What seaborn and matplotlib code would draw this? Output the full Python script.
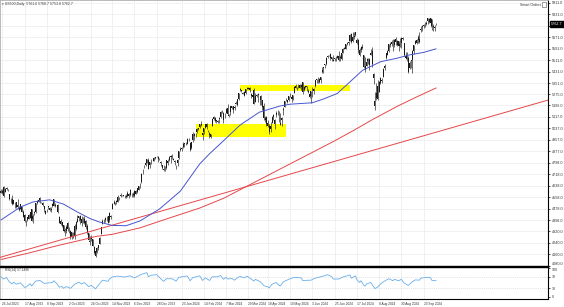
import numpy as np
import pandas as pd
import matplotlib
matplotlib.use("Agg")
import matplotlib.pyplot as plt
import matplotlib.transforms as mtransforms
from matplotlib.patches import Rectangle
import seaborn as sns

# ---------------- data (US500 daily CFD, 25 Jul 2023 - 4 Oct 2024) ----------------
start_date = "2023-07-25"
end_date = "2024-10-04"

opens = [
    4587, 4590, 4630, 4597,
    4617, 4610, 4582, 4532, 4546,
    4512, 4518, 4522, 4507, 4470,
    4478, 4499, 4453, 4437, 4365,
    4401, 4436, 4417, 4475, 4409,
    4446, 4452, 4520, 4538, 4551,
    4524, 4519, 4499, 4442, 4459,
    4488, 4481, 4470, 4495, 4547,
    4495, 4495, 4502, 4424, 4392,
    4360, 4363, 4332, 4320, 4378,
    4334, 4320, 4284, 4309, 4285,
    4339, 4389, 4416, 4430, 4410,
    4377, 4380, 4392, 4357, 4309,
    4246, 4270, 4267, 4210, 4187,
    4175, 4206, 4236, 4304, 4370,
    4400, 4401, 4419, 4426, 4400,
    4421, 4473, 4520, 4512, 4525,
    4526, 4554, 4568, 4572, 4570,
    4569, 4560, 4586, 4564, 4575,
    4584, 4572, 4601, 4583, 4592,
    4608, 4634, 4661, 4736, 4774,
    4780, 4798, 4819, 4779, 4808,
    4810, 4813, 4828, 4841, 4837,
    4825, 4800, 4781, 4753, 4745,
    4758, 4796, 4815, 4848, 4847,
    4822, 4810, 4778, 4798, 4834,
    4891, 4894, 4926, 4925, 4926,
    4930, 4964, 4937, 4900, 4955,
    4995, 4988, 5011, 5033, 5043,
    5064, 5005, 5014, 5041, 5069,
    5021, 5005, 4979, 5054, 5115,
    5108, 5089, 5083, 5100, 5113,
    5146, 5145, 5124, 5147, 5179,
    5126, 5149, 5189, 5190, 5183,
    5215, 5199, 5241, 5313, 5302,
    5280, 5288, 5286, 5313, 5314,
    5318, 5279, 5254, 5304, 5218,
    5271, 5277, 5220, 5232, 5231,
    5194, 5109, 5113, 5077, 5050,
    5032, 5074, 5130, 5064, 5129,
    5159, 5149, 5074, 5095, 5167,
    5187, 5232, 5218, 5234, 5271,
    5253, 5241, 5283, 5330, 5323,
    5325, 5318, 5339, 5360, 5302,
    5325, 5335, 5298, 5279, 5264,
    5304, 5296, 5334, 5377, 5363,
    5361, 5374, 5429, 5461, 5477,
    5486, 5532, 5542, 5555, 5534,
    5514, 5516, 5515, 5528, 5543,
    5526, 5516, 5562, 5592, 5592,
    5627, 5639, 5646, 5691, 5645,
    5678, 5684, 5650, 5648, 5583,
    5584, 5606, 5545, 5469, 5474,
    5516, 5518, 5545, 5578, 5416,
    5191, 5246, 5333, 5292, 5353,
    5370, 5394, 5460, 5523, 5549,
    5575, 5621, 5621, 5655, 5620,
    5657, 5620, 5642, 5625, 5630,
    5666, 5630, 5525, 5548, 5525,
    5460, 5508, 5514, 5576, 5622,
    5634, 5673, 5659, 5720, 5749,
    5751, 5767, 5773, 5802, 5796,
    5767, 5797, 5739, 5738, 5761.6,
]
highs = [
    4612, 4614, 4639, 4622,
    4627, 4616, 4583, 4551, 4572,
    4540, 4523, 4523, 4547, 4496,
    4510, 4499, 4470, 4441, 4402,
    4424, 4439, 4457, 4478, 4438,
    4459, 4520, 4541, 4552, 4562,
    4528, 4522, 4499, 4466, 4476,
    4498, 4488, 4487, 4519, 4547,
    4517, 4502, 4511, 4425, 4407,
    4388, 4363, 4342, 4367, 4384,
    4350, 4332, 4318, 4317, 4374,
    4391, 4435, 4428, 4435, 4427,
    4418, 4429, 4399, 4375, 4311,
    4291, 4294, 4268, 4219, 4191,
    4212, 4229, 4280, 4354, 4409,
    4407, 4421, 4426, 4428, 4453,
    4436, 4518, 4536, 4526, 4536,
    4572, 4557, 4584, 4577, 4575,
    4576, 4583, 4602, 4584, 4614,
    4590, 4593, 4605, 4605, 4624,
    4638, 4659, 4724, 4754, 4781,
    4804, 4824, 4833, 4803, 4827,
    4815, 4839, 4840, 4848, 4844,
    4830, 4809, 4784, 4782, 4776,
    4819, 4821, 4846, 4853, 4858,
    4828, 4820, 4782, 4823, 4880,
    4906, 4904, 4941, 4936, 4945,
    4967, 4970, 4944, 4944, 5013,
    5002, 5002, 5037, 5038, 5068,
    5086, 5009, 5041, 5070, 5076,
    5027, 5009, 4999, 5109, 5126,
    5113, 5098, 5096, 5119, 5155,
    5164, 5149, 5143, 5180, 5205,
    5140, 5194, 5195, 5194, 5196,
    5224, 5240, 5286, 5321, 5306,
    5289, 5296, 5309, 5325, 5322,
    5324, 5280, 5288, 5316, 5282,
    5279, 5284, 5238, 5271, 5235,
    5213, 5124, 5122, 5094, 5064,
    5083, 5122, 5134, 5102, 5159,
    5168, 5155, 5141, 5118, 5185,
    5226, 5245, 5236, 5260, 5284,
    5259, 5270, 5331, 5345, 5325,
    5345, 5343, 5343, 5361, 5331,
    5335, 5335, 5308, 5283, 5300,
    5322, 5318, 5375, 5382, 5396,
    5386, 5396, 5467, 5462, 5487,
    5531, 5545, 5550, 5561, 5534,
    5545, 5526, 5539, 5545, 5578,
    5545, 5564, 5594, 5600, 5625,
    5639, 5645, 5690, 5697, 5710,
    5707, 5710, 5662, 5655, 5597,
    5610, 5625, 5548, 5531, 5528,
    5527, 5526, 5591, 5606, 5423,
    5290, 5352, 5370, 5366, 5391,
    5390, 5454, 5482, 5561, 5582,
    5626, 5638, 5651, 5661, 5659,
    5669, 5649, 5646, 5664, 5669,
    5673, 5630, 5570, 5569, 5541,
    5502, 5515, 5579, 5618, 5654,
    5656, 5689, 5708, 5751, 5755,
    5762, 5775, 5781, 5807, 5803,
    5803, 5797, 5760, 5758, 5768.7,
]
lows = [
    4584, 4579, 4560, 4595,
    4606, 4600, 4537, 4517, 4506,
    4511, 4484, 4482, 4478, 4463,
    4473, 4453, 4423, 4385, 4355,
    4392, 4406, 4415, 4395, 4377,
    4434, 4451, 4513, 4527, 4517,
    4518, 4500, 4454, 4439, 4455,
    4476, 4464, 4457, 4487, 4497,
    4493, 4466, 4451, 4379, 4366,
    4352, 4315, 4289, 4311, 4324,
    4310, 4270, 4270, 4275, 4269,
    4333, 4389, 4395, 4375, 4361,
    4377, 4373, 4338, 4303, 4258,
    4225, 4255, 4216, 4163, 4139,
    4167, 4188, 4233, 4304, 4370,
    4382, 4388, 4395, 4379, 4389,
    4409, 4473, 4510, 4503, 4514,
    4525, 4540, 4561, 4567, 4567,
    4556, 4552, 4562, 4552, 4567,
    4559, 4563, 4561, 4581, 4590,
    4608, 4624, 4659, 4717, 4760,
    4775, 4798, 4752, 4763, 4791,
    4807, 4813, 4823, 4835, 4806,
    4820, 4778, 4755, 4738, 4737,
    4755, 4785, 4811, 4795, 4824,
    4816, 4785, 4752, 4778, 4823,
    4882, 4882, 4903, 4907, 4919,
    4925, 4951, 4883, 4891, 4945,
    4955, 4975, 5007, 5025, 5039,
    5054, 4958, 5001, 5037, 5033,
    5013, 4969, 4971, 5054, 5096,
    5083, 5073, 5077, 5077, 5109,
    5142, 5071, 5106, 5143, 5129,
    5116, 5130, 5170, 5142, 5164,
    5205, 5191, 5232, 5300, 5290,
    5276, 5263, 5273, 5309, 5310,
    5289, 5249, 5254, 5206, 5217,
    5257, 5220, 5198, 5198, 5168,
    5097, 5084, 5053, 5046, 4999,
    5014, 5072, 5092, 5035, 5119,
    5133, 5080, 5059, 5056, 5129,
    5187, 5224, 5210, 5225, 5252,
    5222, 5237, 5283, 5316, 5304,
    5319, 5317, 5306, 5276, 5298,
    5320, 5300, 5284, 5245, 5211,
    5255, 5277, 5322, 5355, 5351,
    5351, 5351, 5424, 5424, 5458,
    5475, 5526, 5537, 5510, 5507,
    5502, 5502, 5507, 5524, 5507,
    5506, 5513, 5561, 5588, 5586,
    5618, 5620, 5642, 5631, 5638,
    5659, 5676, 5623, 5563, 5537,
    5569, 5590, 5459, 5430, 5470,
    5484, 5440, 5545, 5462, 5342,
    5165, 5233, 5232, 5289, 5346,
    5351, 5394, 5442, 5519, 5546,
    5568, 5603, 5609, 5578, 5603,
    5620, 5611, 5578, 5602, 5599,
    5648, 5541, 5522, 5505, 5420,
    5452, 5459, 5424, 5553, 5622,
    5622, 5632, 5634, 5704, 5715,
    5736, 5739, 5755, 5761, 5767,
    5743, 5721, 5715, 5715, 5753.8,
]
closes = [
    4599, 4598, 4569, 4614,
    4621, 4609, 4545, 4533, 4510,
    4538, 4519, 4488, 4488, 4484,
    4510, 4457, 4424, 4390, 4390,
    4420, 4408, 4456, 4396, 4426,
    4453, 4518, 4534, 4528, 4536,
    4523, 4505, 4473, 4459, 4465,
    4495, 4470, 4475, 4513, 4500,
    4504, 4494, 4452, 4380, 4370,
    4387, 4324, 4325, 4350, 4338,
    4338, 4279, 4313, 4308, 4358,
    4386, 4408, 4427, 4400, 4377,
    4409, 4408, 4350, 4313, 4259,
    4252, 4283, 4221, 4172, 4152,
    4202, 4229, 4273, 4353, 4393,
    4401, 4413, 4418, 4382, 4450,
    4427, 4511, 4518, 4523, 4529,
    4562, 4553, 4572, 4573, 4574,
    4566, 4570, 4566, 4583, 4610,
    4584, 4582, 4564, 4600, 4619,
    4637, 4659, 4722, 4735, 4774,
    4795, 4823, 4753, 4801, 4810,
    4812, 4830, 4836, 4838, 4825,
    4825, 4798, 4760, 4744, 4752,
    4819, 4812, 4838, 4835, 4839,
    4820, 4804, 4777, 4818, 4878,
    4889, 4902, 4907, 4932, 4929,
    4966, 4963, 4884, 4944, 4997,
    4981, 4992, 5033, 5036, 5065,
    5060, 4991, 5039, 5068, 5044,
    5020, 4991, 4997, 5102, 5104,
    5085, 5093, 5085, 5111, 5152,
    5146, 5094, 5120, 5172, 5139,
    5132, 5190, 5180, 5166, 5177,
    5209, 5239, 5285, 5301, 5294,
    5278, 5264, 5308, 5314, 5318,
    5303, 5265, 5271, 5207, 5264,
    5262, 5269, 5221, 5259, 5183,
    5106, 5096, 5067, 5056, 5012,
    5055, 5116, 5117, 5093, 5145,
    5161, 5081, 5063, 5109, 5173,
    5226, 5232, 5233, 5259, 5268,
    5241, 5267, 5328, 5317, 5323,
    5328, 5341, 5327, 5288, 5325,
    5330, 5326, 5287, 5256, 5298,
    5303, 5311, 5374, 5373, 5367,
    5381, 5395, 5441, 5454, 5487,
    5528, 5542, 5543, 5528, 5520,
    5503, 5524, 5533, 5538, 5515,
    5530, 5564, 5592, 5595, 5622,
    5627, 5632, 5688, 5640, 5670,
    5671, 5707, 5629, 5585, 5545,
    5604, 5596, 5467, 5440, 5499,
    5504, 5476, 5562, 5486, 5387,
    5226, 5280, 5239, 5359, 5384,
    5363, 5453, 5473, 5561, 5572,
    5626, 5615, 5639, 5589, 5652,
    5635, 5644, 5610, 5610, 5666,
    5658, 5547, 5538, 5521, 5426,
    5489, 5514, 5572, 5614, 5644,
    5651, 5652, 5636, 5731, 5743,
    5759, 5772, 5762, 5785, 5778,
    5802, 5749, 5749, 5740, 5762.7,
]

# moving averages (bar index, value)
ma50_idx = [0, 14, 23, 35, 45, 55, 64, 71, 80, 90, 100, 114, 129, 143, 150, 160,
            172, 186, 201, 208, 224, 232, 242, 251, 260, 273, 285, 294, 304, 313]
ma50_val = [4400, 4490, 4525, 4540, 4510, 4455, 4410, 4385, 4362, 4360, 4393, 4476,
            4600, 4790, 4860, 4950, 5060, 5150, 5193, 5205, 5215, 5241, 5280, 5360,
            5440, 5500, 5525, 5548, 5565, 5590]
ma200_idx = [0, 20, 40, 60, 68, 80, 100, 120, 143, 160, 180, 200, 220, 240, 255,
             268, 285, 300, 313]
ma200_val = [4125, 4170, 4220, 4265, 4285, 4300, 4345, 4410, 4483, 4550, 4650, 4750,
             4850, 4950, 5030, 5102, 5190, 5260, 5318]

# trend line (two anchor points, bar index / price)
trend_idx = [-1, 394]
trend_val = [4139, 5235]

# highlighted zones
zone_start = ["2024-02-06", "2024-03-21"]
zone_end = ["2024-05-07", "2024-07-10"]
zone_low = [4977, 5297]
zone_high = [5067, 5338]

# RSI(14) (bar index, value)
rsi_idx = [0, 2, 4, 6, 8, 9, 11, 14, 17, 18, 21, 22, 25, 28, 31, 33, 37, 38, 40, 42,
           44, 45, 47, 50, 53, 56, 58, 60, 63, 65, 68, 70, 73, 77, 78, 80, 84, 89, 93,
           96, 101, 105, 106, 108, 112, 116, 117, 119, 123, 126, 128, 132, 134, 136,
           138, 143, 145, 147, 150, 152, 155, 158, 160, 162, 163, 166, 168, 171, 172,
           175, 177, 180, 182, 183, 186, 188, 189, 192, 193, 195, 198, 200, 201, 203,
           207, 211, 216, 217, 223, 226, 231, 235, 238, 239, 243, 246, 251, 252, 255,
           256, 258, 259, 261, 262, 263, 266, 267, 268, 269, 271, 273, 275, 277, 279,
           282, 283, 286, 288, 290, 293, 295, 296, 298, 301, 302, 305, 307, 309, 310,
           312, 313]
rsi_val = [70, 62, 67, 52, 45, 51, 44, 49, 33, 34, 46, 38, 55, 57, 47, 48, 50, 56, 47,
           34, 36, 30, 36, 30, 44, 51, 45, 50, 36, 40, 28, 40, 58, 54, 62, 69, 72, 69,
           73, 66, 78, 84, 70, 75, 77, 58, 54, 63, 63, 55, 68, 71, 73, 56, 67, 73, 57,
           66, 57, 70, 69, 74, 61, 68, 62, 64, 58, 69, 71, 66, 72, 62, 55, 61, 54, 46,
           39, 35, 32, 44, 50, 40, 38, 52, 61, 68, 66, 57, 58, 65, 71, 77, 70, 62, 62,
           69, 76, 65, 73, 60, 50, 56, 40, 38, 45, 50, 43, 36, 29, 34, 45, 52, 58, 63,
           56, 61, 56, 61, 48, 40, 49, 53, 59, 58, 65, 67, 68, 67, 57, 56, 57.1496]

# axis labels
price_ticks = [5911.0, 5831.0, 5751.0, 5671.0, 5591.0, 5511.0, 5431.0, 5351.0, 5275.0,
               5196.0, 5117.0, 5037.0, 4957.0, 4877.0, 4798.0, 4718.0, 4638.0, 4558.0,
               4478.0, 4398.0, 4320.0, 4240.0, 4160.0, 4080.0]
date_labels = ["26 Jul 2023", "17 Aug 2023", "8 Sep 2023", "2 Oct 2023", "24 Oct 2023",
               "14 Nov 2023", "6 Dec 2023", "28 Dec 2023", "23 Jan 2024", "14 Feb 2024",
               "7 Mar 2024", "29 Mar 2024", "18 Apr 2024", "10 May 2024", "3 Jun 2024",
               "25 Jun 2024", "17 Jul 2024", "8 Aug 2024", "30 Aug 2024", "23 Sep 2024"]
rsi_ticks = [100, 70, 30, 0]
title_text = "US500,Daily  5761.6 5768.7 5753.8 5762.7"
last_price = 5762.7
rsi_last = 57.1496

# ---------------- figure ----------------
sns.set_theme(style="white")
plt.rcParams['font.family'] = ['Liberation Sans', 'DejaVu Sans']

W, H = 564, 307
fig = plt.figure(figsize=(W / 100, H / 100), dpi=100)
fig.patch.set_facecolor("white")


def box(x0, y0, x1, y1):
    return [x0 / W, 1 - y1 / H, (x1 - x0) / W, (y1 - y0) / H]


ax = fig.add_axes(box(0, 0, 548, 266))
ax2 = fig.add_axes(box(0, 266.5, 548, 298.5))

dates = pd.bdate_range(start_date, end_date)
n = len(closes)
idx = np.arange(n)
assert len(dates) == n == len(opens) == len(highs) == len(lows)

xlim = (-0.7, 393.5)
grid_c = "#e2e2e2"
date_pos = [dates.get_loc(pd.to_datetime(d, format="%d %b %Y")) for d in date_labels]

TXT = "#333333"

# main panel
ax.set_xlim(*xlim)
ax.set_ylim(4079.8, 5929.6)
for v in price_ticks:
    ax.axhline(v, color=grid_c, lw=0.5, ls=(0, (2, 1)), zorder=0)
for p in date_pos:
    ax.axvline(p, color=grid_c, lw=0.5, ls=(0, (2, 1)), zorder=0)

for t0, t1, lo, hi in zip(zone_start, zone_end, zone_low, zone_high):
    i0 = dates.get_loc(pd.Timestamp(t0))
    i1 = dates.get_loc(pd.Timestamp(t1))
    ax.add_patch(Rectangle((i0, lo), i1 - i0, hi - lo, facecolor="#ffff00",
                           edgecolor="none", zorder=1))

o = np.array(opens, float)
h = np.array(highs, float)
l = np.array(lows, float)
c = np.array(closes, float)
ax.vlines(idx, l, h, color="#1a1a1a", lw=0.45, zorder=3)
ax.bar(idx, np.maximum(np.abs(c - o), 1.5), bottom=np.minimum(o, c), width=0.7,
       color="#1a1a1a", linewidth=0, zorder=3)

sns.lineplot(x=trend_idx, y=trend_val, ax=ax, color="#e5474a", lw=0.7, zorder=4)
sns.lineplot(x=ma200_idx, y=ma200_val, ax=ax, color="#e5474a", lw=0.7, zorder=4)
sns.lineplot(x=ma50_idx, y=ma50_val, ax=ax, color="#4656cf", lw=0.7, zorder=4)

ax.yaxis.tick_right()
ax.set_yticks(price_ticks)
# the label sitting under the current-price box is covered in the chart
ylabels = ["" if abs(v - last_price) < 20 else f"{v:.1f}" for v in price_ticks]
ax.set_yticklabels(ylabels, fontsize=2.7)
ax.tick_params(axis="y", length=1.5, width=0.5, pad=1.0, colors="black", labelcolor=TXT)
ax.get_yticklabels()[-1].set_va("bottom")
ax.set_xticks([])
ax.set_xlabel("")
ax.set_ylabel("")
for s in ["top", "left"]:
    ax.spines[s].set_color("#b0b0b0")
    ax.spines[s].set_linewidth(0.6)
ax.spines["right"].set_color("black")
ax.spines["right"].set_linewidth(0.8)
ax.spines["bottom"].set_color("black")
ax.spines["bottom"].set_linewidth(1.0)

# current price box
tr = mtransforms.blended_transform_factory(ax.transAxes, ax.transData)
ax.text(1.006, last_price, f"{last_price:.1f}", transform=tr, fontsize=2.7, color="white",
        va="center", ha="left", clip_on=False, zorder=10,
        bbox=dict(boxstyle="square,pad=0.35", fc="black", ec="black"))

# title & labels
fig.text(2 / W, 1 - 4.5 / H, "\u25be " + title_text, fontsize=2.5, va="center", ha="left",
         color=TXT)
fig.text(541 / W, 1 - 4.5 / H, "Smart Orders", fontsize=2.5, va="center", ha="right",
         color=TXT)
fig.patches.append(Rectangle((542 / W, 1 - 6.5 / H), 4 / W, 4 / H, transform=fig.transFigure,
                             facecolor="white", edgecolor="#555555", lw=0.4))

# RSI panel
ax2.set_xlim(*xlim)
ax2.set_ylim(-5.2, 105.2)
for p in date_pos:
    ax2.axvline(p, color=grid_c, lw=0.5, ls=(0, (2, 1)), zorder=0)
for v in [70, 30]:
    ax2.axhline(v, color="#d8d8d8", lw=0.5, ls=(0, (1.5, 1.5)), zorder=0)
sns.lineplot(x=rsi_idx, y=rsi_val, ax=ax2, color="#6aaee8", lw=0.6, zorder=3)
ax2.text(3, 93, f"RSI(14) {rsi_last:.4f}", fontsize=2.3, va="center", ha="left",
         color=TXT)
ax2.yaxis.tick_right()
ax2.set_yticks(rsi_ticks)
ax2.set_yticklabels([str(v) for v in rsi_ticks], fontsize=2.5)
ax2.tick_params(axis="y", length=1.5, width=0.5, pad=1.0, colors="black", labelcolor=TXT)
ax2.get_yticklabels()[0].set_va("top")
ax2.set_xticks(date_pos)
ax2.set_xticklabels(date_labels, fontsize=2.3, ha="left", color=TXT)
ax2.tick_params(axis="x", length=1.5, width=0.5, pad=1.2, colors="black", labelcolor=TXT)
ax2.set_xlabel("")
ax2.set_ylabel("")
for s in ["top", "bottom", "right"]:
    ax2.spines[s].set_color("black")
    ax2.spines[s].set_linewidth(0.8)
ax2.spines["top"].set_linewidth(1.0)
ax2.spines["left"].set_color("#b0b0b0")
ax2.spines["left"].set_linewidth(0.6)

fig.savefig("out.png", dpi=100)
